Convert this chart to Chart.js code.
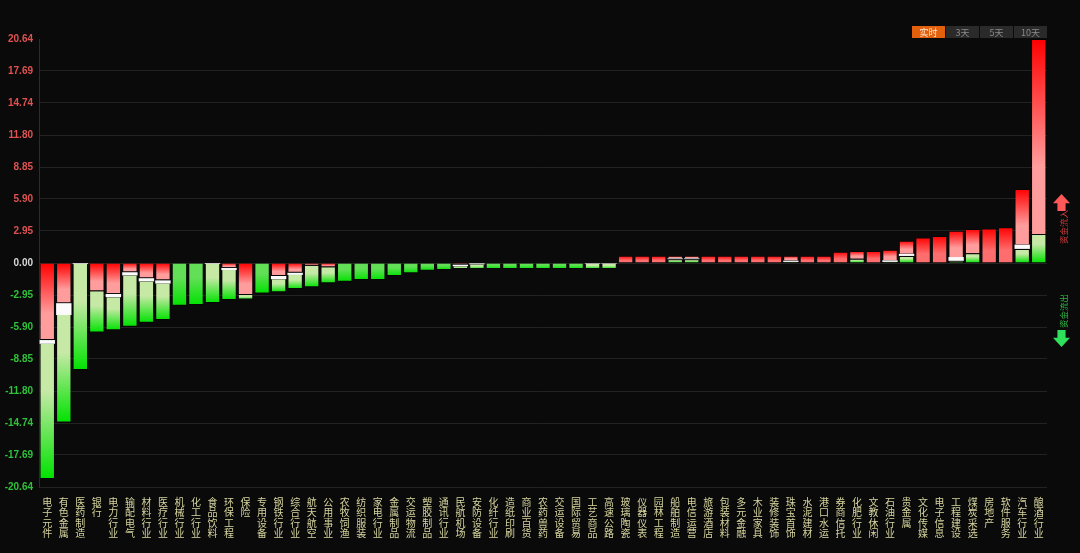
<!DOCTYPE html>
<html>
<head>
<meta charset="utf-8">
<script src="https://cdn.jsdelivr.net/npm/chart.js@4.4.1/dist/chart.umd.min.js"></script>
<style>
    html, body { margin: 0; padding: 0; background: #0a0a0a; }
    #wrap { position: relative; width: 1080px; height: 553px; overflow: hidden; }
    .tabs { position: absolute; left: 912px; top: 26px; display: flex; gap: 1px; }
    .tab { width: 33px; height: 12px; line-height: 12px; font: 9px 'Noto Sans CJK SC', sans-serif; color: #8a8a8a; background: #2a2a2a; text-align: center; }
    .tab.on { background: #e3600c; color: #ffe6d6; }
    .arrow { position: absolute; left: 1053px; width: 17px; height: 17px; }
    .arrow.up { top: 194px; background: #ff5858; clip-path: polygon(50% 0, 100% 55%, 74% 55%, 74% 100%, 26% 100%, 26% 55%, 0 55%); }
    .arrow.down { top: 330px; background: #2ee05a; clip-path: polygon(26% 0, 74% 0, 74% 45%, 100% 45%, 50% 100%, 0 45%, 26% 45%); }
    .vtext { position: absolute; left: 1046px; width: 34px; height: 10px; font: 8.5px/10px 'Noto Sans CJK SC', sans-serif; white-space: nowrap; text-align: center; transform: rotate(-90deg); transform-origin: 50% 50%; }
    .vtext.in { top: 222px; color: #d03a3a; }
    .vtext.out { top: 306px; color: #2fb944; }
</style>
</head>
<body>
<div id="wrap">
    <canvas id="flowChart" width="1080" height="553"></canvas>
    <div class="tabs">
        <div class="tab on">实时</div>
        <div class="tab">3天</div>
        <div class="tab">5天</div>
        <div class="tab">10天</div>
    </div>
    <div class="arrow up"></div>
    <div class="vtext in">资金流入</div>
    <div class="vtext out">资金流出</div>
    <div class="arrow down"></div>
</div>
<script>
// sectors, sorted by net flow
const categories = [
    '电子元件', '有色金属', '医药制造', '银行', '电力行业', '输配电气', '材料行业', '医疗行业', '机械行业', '化工行业',
    '食品饮料', '环保工程', '保险', '专用设备', '钢铁行业', '综合行业', '航天航空', '公用事业', '农牧饲渔', '纺织服装',
    '家电行业', '金属制品', '交运物流', '塑胶制品', '通讯行业', '民航机场', '安防设备', '化纤行业', '造纸印刷', '商业百货',
    '农药兽药', '交运设备', '国际贸易', '工艺商品', '高速公路', '玻璃陶瓷', '仪器仪表', '园林工程', '船舶制造', '电信运营',
    '旅游酒店', '包装材料', '多元金融', '木业家具', '装修装饰', '珠宝首饰', '水泥建材', '港口水运', '券商信托', '化肥行业',
    '文教休闲', '石油行业', '贵金属', '文化传媒', '电子信息', '工程建设', '煤炭采选', '房地产', '软件服务', '汽车行业',
    '酿酒行业'
];

// net value (bar end)
const netValues = [
    -19.9, -14.7, -9.85, -6.4, -6.2, -5.87, -5.5, -5.25, -3.93, -3.87,
    -3.69, -3.4, -3.36, -2.8, -2.7, -2.4, -2.24, -1.87, -1.72, -1.57,
    -1.57, -1.2, -0.95, -0.71, -0.65, -0.55, -0.55, -0.55, -0.55, -0.55,
    -0.55, -0.55, -0.55, -0.55, -0.55, 0.67, 0.67, 0.67, 0.67, 0.67,
    0.67, 0.67, 0.67, 0.67, 0.67, 0.67, 0.67, 0.67, 1.04, 1.1,
    1.1, 1.22, 2.05, 2.36, 2.49, 2.98, 3.13, 3.19, 3.3, 6.82,
    20.64
];

// where the red and green parts meet
const splitValues = [
    -7.1, -3.7, -0.02, -2.6, -2.85, -0.85, -1.4, -1.6, 0, 0,
    -0.02, -0.45, -2.95, 0, -1.2, -0.9, -0.25, -0.4, 0, 0,
    0, 0, 0, 0, 0, -0.15, -0.03, 0, 0, 0,
    0, 0, 0, -0.02, -0.02, 0, 0, 0, 0.35, 0.35,
    0, 0, 0, 0, 0, 0.1, 0, 0, 0, 0.4,
    0, 0.1, 0.65, 0, 0, 0.2, 0.9, 0, 0, 1.3,
    2.67
];

// thickness of the white band at the split
const bandValues = [
    0.35, 1.1, 0.08, 0, 0.3, 0.3, 0.3, 0.3, 0, 0,
    0.08, 0.2, 0, 0, 0.3, 0.2, 0, 0, 0, 0,
    0, 0, 0, 0, 0, 0.15, 0.1, 0, 0, 0,
    0, 0, 0, 0.05, 0.05, 0, 0, 0, 0.08, 0.08,
    0, 0, 0, 0, 0, 0.12, 0, 0, 0, 0,
    0, 0.15, 0.2, 0, 0, 0.35, 0, 0, 0, 0.4,
    0
];

const tickLabels = [
    '-20.64', '-17.69', '-14.74', '-11.80', '-8.85', '-5.90', '-2.95', '0.00',
    '2.95', '5.90', '8.85', '11.80', '14.74', '17.69', '20.64'
];
const axisMax = 20.64;

// each segment is [end near the split, far end]
const redSeg = netValues.map((v, i) => {
    const s = splitValues[i], b = bandValues[i];
    if (v < 0) return s < 0 ? [s, 0] : null;
    return v > s + b ? [s + b, v] : null;
});
const whiteSeg = netValues.map((v, i) => {
    const s = splitValues[i], b = bandValues[i];
    if (!b) return null;
    return v < 0 ? [s, s - b] : [s, s + b];
});
const greenSeg = netValues.map((v, i) => {
    const s = splitValues[i], b = bandValues[i];
    if (v < 0) return v < s - b ? [s - b, v] : null;
    return s > 0 ? [s, 0] : null;
});

function segmentFill(nearColor, farColor, plainNear) {
    return (ctx) => {
        const chart = ctx.chart;
        const raw = ctx.raw;
        if (!chart.chartArea || !raw) return farColor;
        const y = chart.scales.y;
        const p0 = y.getPixelForValue(raw[0]);
        const p1 = y.getPixelForValue(raw[1]);
        const g = chart.ctx.createLinearGradient(0, p0, 0, p1);
        const hasSplit = splitValues[ctx.dataIndex] !== 0;
        const near = hasSplit ? nearColor : plainNear;
        g.addColorStop(0, near);
        g.addColorStop(0.35, near);
        g.addColorStop(1, farColor);
        return g;
    };
}

const ctx = document.getElementById('flowChart').getContext('2d');
new Chart(ctx, {
    type: 'bar',
    data: {
        labels: categories.map(c => c.split('')),
        datasets: [
            {
                data: redSeg,
                backgroundColor: segmentFill('#ff9c9c', '#ff0000', '#ff6e6e'),
                borderColor: 'rgba(0,0,0,0.3)',
                borderWidth: 1,
                stack: 'flow'
            },
            {
                data: greenSeg,
                backgroundColor: segmentFill('#c6e9a6', '#00e200', '#62df56'),
                borderColor: 'rgba(0,0,0,0.3)',
                borderWidth: 1,
                stack: 'flow'
            },
            {
                data: whiteSeg,
                backgroundColor: '#fbfbfb',
                borderWidth: 0,
                stack: 'flow'
            }
        ]
    },
    options: {
        responsive: false,
        animation: false,
        layout: { padding: { top: 39, right: 33, left: 0, bottom: 0 } },
        datasets: {
            bar: { barPercentage: 0.93, categoryPercentage: 1 }
        },
        plugins: {
            legend: { display: false },
            tooltip: { enabled: false }
        },
        scales: {
            x: {
                stacked: true,
                grid: { display: false },
                border: { display: false },
                ticks: {
                    autoSkip: false,
                    maxRotation: 0,
                    minRotation: 0,
                    padding: 2,
                    color: '#d6d49e',
                    font: { family: "'Noto Sans CJK SC', sans-serif", size: 10, lineHeight: 1.04 }
                },
                afterFit: (scale) => { scale.height = 66; }
            },
            y: {
                stacked: false,
                min: -axisMax,
                max: axisMax,
                afterBuildTicks: (scale) => {
                    const step = (axisMax * 2) / (tickLabels.length - 1);
                    scale.ticks = tickLabels.map((t, i) => ({ value: -axisMax + i * step }));
                },
                afterFit: (scale) => { scale.width = 39; },
                grid: {
                    drawTicks: false,
                    color: (c) => c.index === tickLabels.length - 1 ? 'rgba(0,0,0,0)' : '#232323'
                },
                border: { display: true, color: '#2c2c2c' },
                ticks: {
                    padding: 6,
                    callback: (value, index) => tickLabels[index],
                    color: (c) => c.tick.value > 0.001 ? '#e05252' : (c.tick.value < -0.001 ? '#2fc23a' : '#d8d8d8'),
                    font: { family: "'Liberation Sans', sans-serif", size: 10, weight: 'bold' }
                }
            }
        }
    }
});
</script>
</body>
</html>
